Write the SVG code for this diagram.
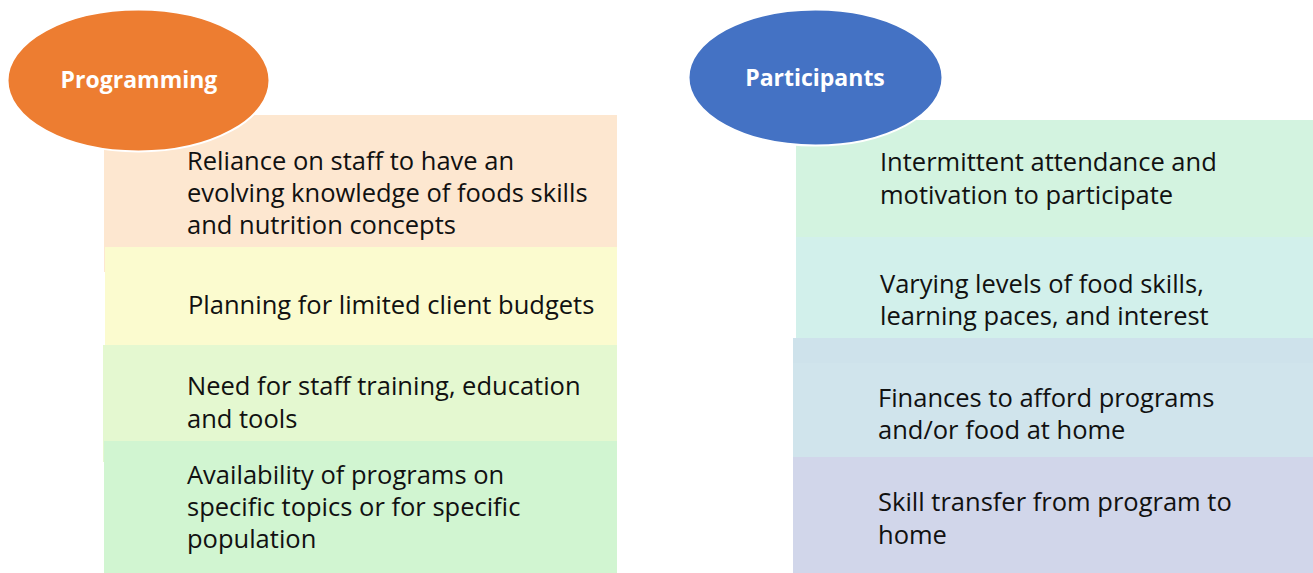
<svg xmlns="http://www.w3.org/2000/svg" width="1313" height="573" viewBox="0 0 1313 573">
  <style>
    .item { font-family: "Open Sans", "Liberation Sans", sans-serif; font-size: 25.5px; fill: #111111; }
    .head { font-family: "Open Sans", "Liberation Sans", sans-serif; font-size: 23px; font-weight: bold; fill: #ffffff; text-anchor: middle; }
    .oval { stroke: #ffffff; stroke-width: 2; }
  </style>
  <rect width="1313" height="573" fill="#ffffff"/>

  <!-- Programming column -->
  <g id="prog-staff-knowledge">
    <rect x="104" y="115" width="513" height="157" fill="#fde7d0"/>
    <text class="item" x="187" y="170">Reliance on staff to have an</text>
    <text class="item" x="187" y="202">evolving knowledge of foods skills</text>
    <text class="item" x="187" y="234">and nutrition concepts</text>
  </g>
  <g id="prog-budgets">
    <rect x="105" y="247" width="512" height="98" fill="#fbfbcf"/>
    <text class="item" x="188" y="314">Planning for limited client budgets</text>
  </g>
  <g id="prog-training">
    <rect x="103" y="345" width="514" height="117" fill="#e4f8d0"/>
    <text class="item" x="187" y="395">Need for staff training, education</text>
    <text class="item" x="187" y="428">and tools</text>
  </g>
  <g id="prog-availability">
    <rect x="104" y="441" width="513" height="132" fill="#d1f5d1"/>
    <text class="item" x="187" y="484">Availability of programs on</text>
    <text class="item" x="187" y="516">specific topics or for specific</text>
    <text class="item" x="187" y="548">population</text>
  </g>
  <g id="programming">
    <ellipse class="oval" cx="138.5" cy="80.5" rx="131" ry="71" fill="#ed7d31"/>
    <text class="head" x="139" y="88">Programming</text>
  </g>

  <!-- Participants column -->
  <g id="part-attendance">
    <rect x="796" y="120" width="517" height="117" fill="#d3f3e0"/>
    <text class="item" x="880" y="171">Intermittent attendance and</text>
    <text class="item" x="880" y="204">motivation to participate</text>
  </g>
  <g id="part-skill-levels">
    <rect x="796" y="237" width="517" height="101" fill="#d2f0eb"/>
    <text class="item" x="880" y="293">Varying levels of food skills,</text>
    <text class="item" x="880" y="325">learning paces, and interest</text>
  </g>
  <g id="part-finances">
    <rect x="793" y="338" width="520" height="119" fill="#d0e4ec"/>
    <rect x="793" y="338" width="520" height="25" fill="#cee2eb"/>
    <text class="item" x="878" y="407">Finances to afford programs</text>
    <text class="item" x="878" y="439">and/or food at home</text>
  </g>
  <g id="part-transfer">
    <rect x="793" y="457" width="520" height="116" fill="#d1d6ea"/>
    <text class="item" x="878" y="511">Skill transfer from program to</text>
    <text class="item" x="878" y="544">home</text>
  </g>
  <g id="participants">
    <ellipse class="oval" cx="815.5" cy="77.5" rx="127" ry="68" fill="#4472c4"/>
    <text class="head" x="815" y="86">Participants</text>
  </g>

  <g id="connectors"></g>
</svg>
